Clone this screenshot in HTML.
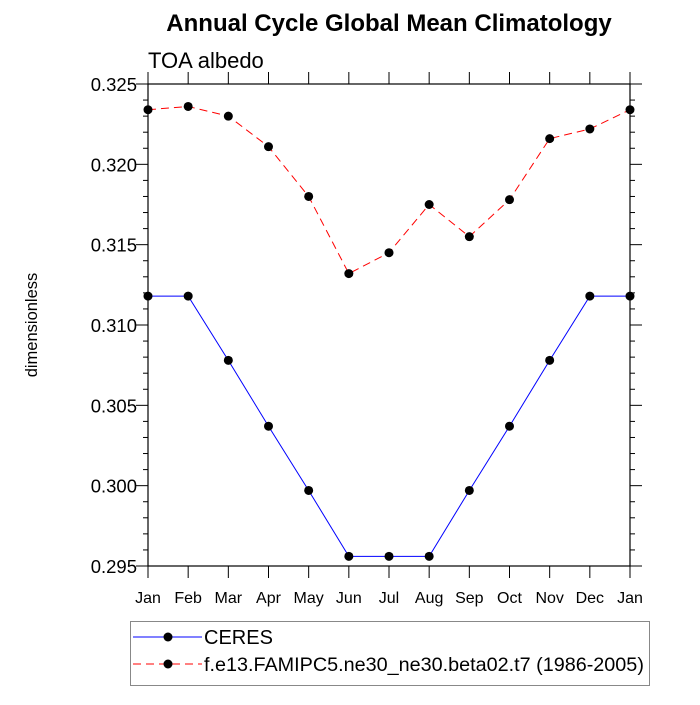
<!DOCTYPE html>
<html><head><meta charset="utf-8"><style>
body{margin:0;background:#fff}
svg text{font-family:"Liberation Sans",sans-serif}
</style></head><body>
<svg id="chart" width="700" height="700" xmlns="http://www.w3.org/2000/svg">
<rect width="700" height="700" fill="#fff"/>
<text x="389" y="31" font-size="24" font-weight="bold" text-anchor="middle">Annual Cycle Global Mean Climatology</text>
<text x="148" y="68" font-size="22">TOA albedo</text>
<text transform="translate(37,325) rotate(-90)" font-size="16.5" text-anchor="middle">dimensionless</text>
<g id="axes"></g>
<g id="series"></g>
<g>
<rect x="130.5" y="621.5" width="519" height="64" fill="none" stroke="#888"/>
<line x1="133" y1="637" x2="202" y2="637" stroke="#0000ff" stroke-width="1"/>
<circle cx="168" cy="637" r="4.5" fill="#000"/>
<text x="204" y="644" font-size="20">CERES</text>
<line x1="133" y1="664" x2="202" y2="664" stroke="#ff0000" stroke-dasharray="8,5"/>
<circle cx="168" cy="664" r="4.5" fill="#000"/>
<text x="204" y="671" font-size="19.8">f.e13.FAMIPC5.ne30_ne30.beta02.t7 (1986-2005)</text>
</g>
</svg>
<script>
const months=["Jan","Feb","Mar","Apr","May","Jun","Jul","Aug","Sep","Oct","Nov","Dec","Jan"];
const ceres=[0.3118,0.3118,0.3078,0.3037,0.2997,0.2956,0.2956,0.2956,0.2997,0.3037,0.3078,0.3118,0.3118];
const model=[0.3234,0.3236,0.3230,0.3211,0.3180,0.3132,0.3145,0.3175,0.3155,0.3178,0.3216,0.3222,0.3234];
const yTicks=[0.295,0.300,0.305,0.310,0.315,0.320,0.325];
const X0=148,X1=630,Y0=566,Y1=84,ymin=0.295,ymax=0.325;
const xs=i=>X0+(X1-X0)*i/(months.length-1);
const ys=v=>Y0-(v-ymin)/(ymax-ymin)*(Y0-Y1);
const NS="http://www.w3.org/2000/svg";
function mk(t,a,p){const e=document.createElementNS(NS,t);for(const k in a)e.setAttribute(k,a[k]);p.appendChild(e);return e;}
const ax=document.getElementById('axes');
const frame=mk('rect',{x:X0,y:Y1,width:X1-X0,height:Y0-Y1,fill:'none',stroke:'#000','stroke-width':1.2},ax);


months.forEach((m,i)=>{const x=xs(i);
mk('line',{x1:x,y1:Y0,x2:x,y2:Y0+12,stroke:'#000'},ax);
mk('line',{x1:x,y1:Y1,x2:x,y2:Y1-12,stroke:'#000'},ax);
const t=mk('text',{x:x,y:Y0+37,'font-size':16,'text-anchor':'middle'},ax);t.textContent=m;

});
for(let k=0;k<=30;k++){const v=ymin+k*0.001,y=ys(v),maj=k%5===0,L=maj?12:5;
mk('line',{x1:X0-L,y1:y,x2:X0,y2:y,stroke:'#000'},ax);
mk('line',{x1:X1,y1:y,x2:X1+L,y2:y,stroke:'#000'},ax);}
yTicks.forEach(v=>{const t=mk('text',{x:X0-11,y:ys(v)+7,'font-size':18.5,'text-anchor':'end'},ax);t.textContent=v.toFixed(3);

});
const sg=document.getElementById('series');
function series(vals,col,dash,name){
const pl=mk('polyline',{points:vals.map((v,i)=>xs(i)+','+ys(v)).join(' '),fill:'none',stroke:col,'stroke-width':1,'stroke-dasharray':dash},sg);


vals.forEach((v,i)=>{const c=mk('circle',{cx:xs(i),cy:ys(v),r:4.5,fill:'#000'},sg);

});}
series(ceres,'#0000ff','none','ceres');
series(model,'#ff0000','8,5','model');
</script>
</body></html>
